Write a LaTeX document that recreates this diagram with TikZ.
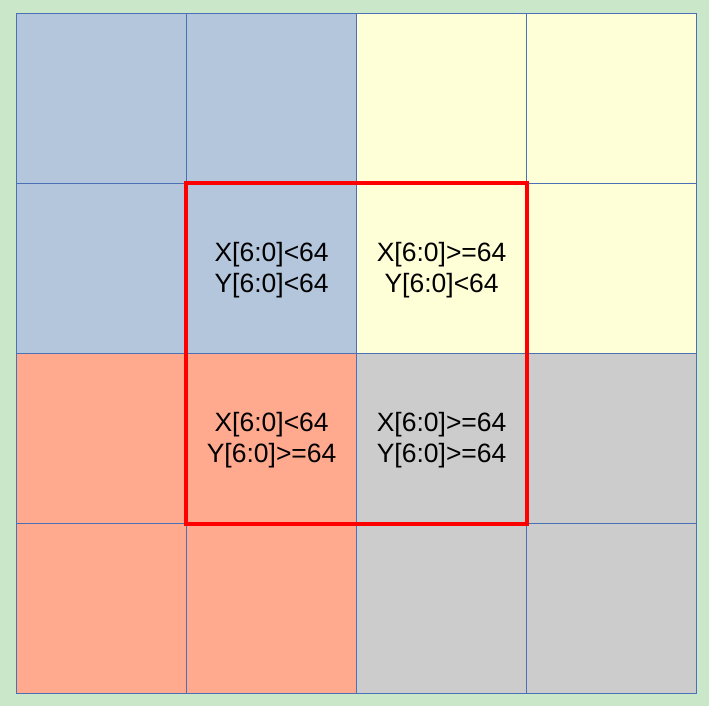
\documentclass[tikz,border=0pt]{standalone}
\usepackage{fontspec}
\setmainfont{Liberation Sans}
\definecolor{bggreen}{HTML}{CAE7CA}
\definecolor{cellblue}{HTML}{B4C6DC}
\definecolor{cellyellow}{HTML}{FFFFD7}
\definecolor{cellsalmon}{HTML}{FFA98F}
\definecolor{cellgrey}{HTML}{CCCCCC}
\definecolor{gridline}{HTML}{4A70B5}
\begin{document}
\begin{tikzpicture}[x=1pt,y=-1pt,
    cell/.style={draw=gridline, line width=1.2pt, minimum size=170pt,
      inner sep=0pt, anchor=north west},
    label/.style={align=center, inner sep=0pt,
      font=\fontsize{26.5}{31}\selectfont},
    redbox/.style={draw=red, line width=4pt}]
  % Background
  \fill[bggreen] (0,0) rectangle (709,706);
  \useasboundingbox (0,0) rectangle (709,706);

  % Grid of cells
  \foreach \r/\c/\col in {0/0/cellblue, 0/1/cellblue, 0/2/cellyellow, 0/3/cellyellow,
                          1/0/cellblue, 1/1/cellblue, 1/2/cellyellow, 1/3/cellyellow,
                          2/0/cellsalmon, 2/1/cellsalmon, 2/2/cellgrey, 2/3/cellgrey,
                          3/0/cellsalmon, 3/1/cellsalmon, 3/2/cellgrey, 3/3/cellgrey}
    \node[cell, fill=\col] (cell-\r-\c) at (16+170*\c, 13+170*\r) {};

  % Labels
  \node[label] (lab-1-1) at ([yshift=-1.5pt]cell-1-1) {X[6:0]<64\\Y[6:0]<64};
  \node[label] (lab-1-2) at ([yshift=-1.5pt]cell-1-2) {X[6:0]>=64\\Y[6:0]<64};
  \node[label] (lab-2-1) at ([yshift=-1.5pt]cell-2-1) {X[6:0]<64\\Y[6:0]>=64};
  \node[label] (lab-2-2) at ([yshift=-1.5pt]cell-2-2) {X[6:0]>=64\\Y[6:0]>=64};

  % Red window
  \draw[redbox] (cell-1-1.north west) rectangle (cell-2-2.south east);
\end{tikzpicture}
\end{document}
